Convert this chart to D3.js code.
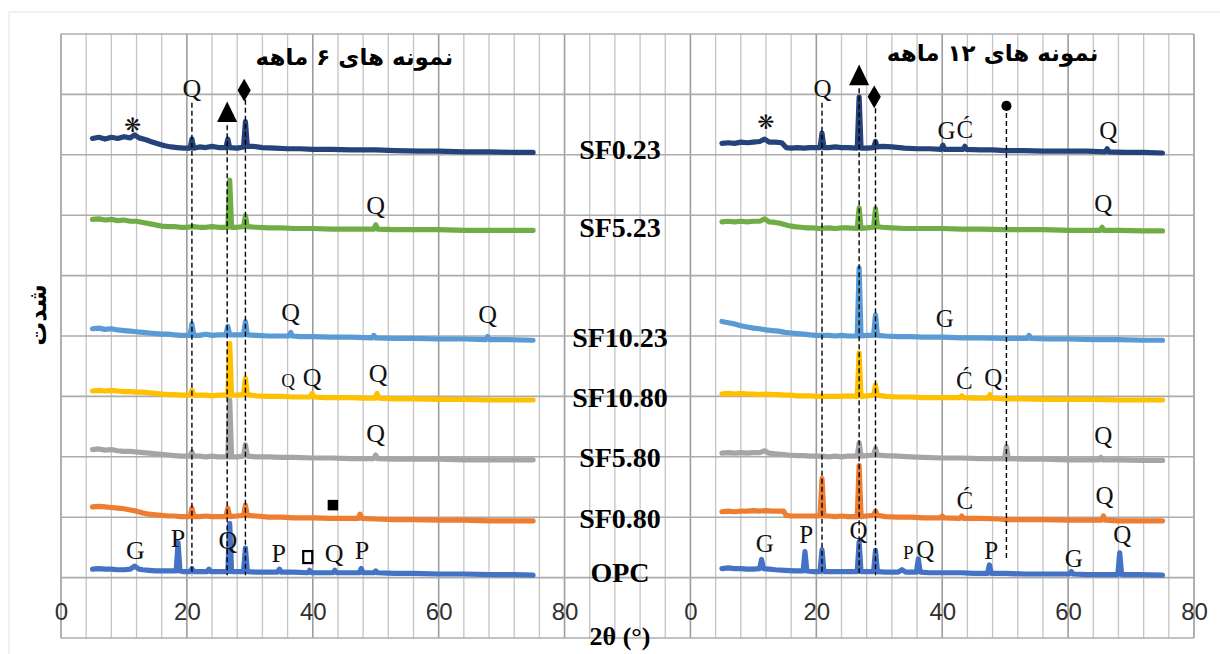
<!DOCTYPE html>
<meta charset="utf-8">
<script src="https://cdn.jsdelivr.net/npm/d3@7"></script>
<style>
  body { margin: 0; background: #fff; }
</style>
<div id="my_dataviz"></div>
<script>

// sample names, top to bottom
var samples = ["SF0.23", "SF5.23", "SF10.23", "SF10.80", "SF5.80", "SF0.80", "OPC"];
var xTicks = [0, 20, 40, 60, 80];
var titles = ["نمونه های ۶ ماهه", "نمونه های ۱۲ ماهه"];
var yTitle = "شدت";
var xTitle = "2θ (°)";

// ---- 6 month patterns : [2theta, stacked intensity] ----
var m6_SF023 = [[5,8.27],[6,8.29],[7,8.26],[8,8.29],[9,8.27],[10,8.30],[11,8.28],[11.7,8.33],[12.4,8.28],[13.5,8.25],[14.5,8.21],[15.5,8.18],[16.5,8.15],[17.5,8.13],[18.5,8.12],[19.5,8.11],[20.5,8.11],[20.8,8.26],[21.1,8.11],[22,8.13],[23,8.12],[24,8.14],[25,8.12],[26.2,8.12],[26.5,8.26],[26.8,8.12],[28,8.11],[29,8.13],[29.3,8.55],[29.6,8.14],[30.5,8.14],[32,8.12],[34,8.11],[36,8.10],[38,8.10],[40,8.09],[43,8.09],[46,8.08],[50,8.08],[53,8.07],[57,8.06],[60,8.06],[64,8.05],[68,8.05],[72,8.04],[75,8.04]];
var m6_SF523 = [[5,6.93],[6,6.94],[7,6.92],[8,6.93],[9,6.91],[10,6.92],[11,6.90],[12,6.90],[13,6.88],[14,6.86],[15,6.84],[16,6.82],[17,6.81],[18,6.81],[19,6.80],[20,6.80],[21,6.81],[22,6.80],[23,6.80],[24,6.81],[25,6.80],[26.5,6.80],[26.8,7.58],[27.1,6.80],[28,6.80],[29,6.81],[29.3,6.99],[29.6,6.81],[31,6.80],[33,6.79],[35,6.79],[37,6.78],[40,6.78],[43,6.77],[46,6.77],[49.7,6.77],[50,6.84],[50.3,6.77],[53,6.76],[56,6.76],[60,6.76],[64,6.75],[68,6.75],[72,6.75],[75,6.75]];
var m6_SF1023 = [[5,5.12],[6,5.13],[7,5.11],[8,5.12],[9,5.10],[10,5.09],[11,5.08],[12,5.07],[13,5.06],[14,5.05],[15,5.04],[16,5.03],[17,5.03],[18,5.02],[19,5.01],[20.5,5.01],[20.8,5.20],[21.1,5.01],[22,5.01],[23,5.03],[24,5.01],[25,5.02],[26.2,5.02],[26.5,5.16],[26.8,5.02],[28,5.02],[29,5.02],[29.3,5.24],[29.6,5.02],[31,5.01],[33,5.00],[35,5.00],[36.2,5.00],[36.5,5.06],[36.8,5.00],[38,4.99],[40,4.99],[43,4.98],[46,4.98],[49.4,4.97],[49.7,5.01],[50,4.97],[53,4.96],[56,4.96],[60,4.95],[64,4.95],[67.5,4.94],[67.8,4.99],[68.1,4.94],[71,4.94],[75,4.93]];
var m6_SF1080 = [[5,4.09],[6,4.10],[7,4.09],[8,4.10],[9,4.09],[10,4.08],[11,4.08],[12,4.07],[13,4.07],[14,4.06],[15,4.05],[16,4.04],[17,4.03],[18,4.03],[19,4.02],[20.5,4.02],[20.8,4.10],[21.1,4.02],[22,4.02],[23,4.02],[24,4.01],[25,4.02],[26.5,4.02],[26.8,4.88],[27.1,4.02],[28,4.02],[29,4.03],[29.3,4.30],[29.6,4.03],[31,4.01],[33,4.00],[35,4.00],[37,3.99],[39.6,3.99],[39.9,4.05],[40.2,3.99],[42,3.98],[44,3.98],[46,3.98],[48,3.97],[49.9,3.97],[50.2,4.05],[50.5,3.97],[53,3.96],[56,3.96],[60,3.95],[64,3.95],[68,3.94],[72,3.94],[75,3.94]];
var m6_SF580 = [[5,3.12],[6,3.13],[7,3.11],[8,3.12],[9,3.10],[10,3.09],[11,3.09],[12,3.08],[13,3.07],[14,3.06],[15,3.05],[16,3.04],[17,3.03],[18,3.02],[19,3.01],[20.5,3.01],[20.8,3.08],[21.1,3.01],[22,3.01],[23,3.00],[24,3.01],[25,3.00],[26.5,3.00],[26.8,3.94],[27.1,3.00],[28,3.00],[29,3.01],[29.3,3.20],[29.6,3.01],[31,3.00],[33,3.00],[35,2.99],[37,2.99],[40,2.98],[43,2.98],[46,2.97],[49.7,2.97],[50,3.03],[50.3,2.97],[53,2.96],[56,2.96],[60,2.96],[64,2.95],[68,2.95],[72,2.95],[75,2.95]];
var m6_SF080 = [[5,2.17],[6,2.18],[7,2.17],[8,2.16],[9,2.15],[10,2.14],[11,2.12],[12,2.10],[13,2.07],[14,2.05],[15,2.04],[16,2.03],[17,2.02],[18,2.02],[19,2.01],[20.5,2.01],[20.8,2.15],[21.1,2.01],[22,2.01],[23,2.02],[24,2.01],[25,2.01],[26.2,2.01],[26.5,2.15],[26.8,2.01],[28,2.02],[29,2.03],[29.3,2.20],[29.6,2.03],[31,2.02],[33,2.00],[35,2.00],[37,1.99],[40,1.99],[43,1.98],[45,1.98],[47.2,1.98],[47.5,2.05],[47.8,1.98],[50,1.97],[53,1.96],[56,1.96],[60,1.95],[64,1.95],[68,1.94],[72,1.94],[75,1.94]];
var m6_OPC = [[5,1.14],[6,1.15],[7,1.14],[8,1.14],[9,1.13],[10,1.13],[11,1.14],[11.7,1.19],[12.4,1.14],[13,1.13],[14,1.12],[15,1.11],[16,1.11],[17,1.11],[18.3,1.11],[18.6,1.58],[18.9,1.11],[19.5,1.10],[20.5,1.10],[20.8,1.15],[21.1,1.10],[22,1.10],[23.2,1.10],[23.5,1.14],[23.8,1.10],[25,1.10],[26.5,1.10],[26.8,1.90],[27.1,1.10],[28,1.10],[29,1.10],[29.3,1.49],[29.6,1.10],[31,1.09],[32.5,1.09],[34.4,1.09],[34.7,1.14],[35,1.09],[37,1.09],[39.2,1.08],[39.5,1.12],[39.8,1.08],[41,1.08],[43.2,1.08],[43.5,1.12],[43.8,1.08],[45,1.08],[47.4,1.08],[47.7,1.15],[48,1.08],[49.7,1.08],[50,1.11],[50.3,1.08],[53,1.07],[56,1.07],[60,1.06],[64,1.06],[68,1.05],[72,1.05],[75,1.04]];

// ---- 12 month patterns ----
var m12_SF023 = [[5,8.19],[6,8.20],[7,8.19],[8,8.21],[9,8.20],[10,8.21],[11,8.22],[11.8,8.26],[12.5,8.21],[13.5,8.21],[14.5,8.20],[15.2,8.12],[16,8.11],[17,8.12],[18,8.11],[19,8.12],[20.6,8.12],[20.9,8.36],[21.2,8.12],[22,8.12],[23,8.13],[24,8.12],[25,8.12],[26.5,8.11],[26.8,8.96],[27.1,8.11],[28,8.11],[29.1,8.12],[29.4,8.22],[29.7,8.13],[30.5,8.14],[32,8.13],[34,8.11],[36,8.10],[38,8.10],[39.8,8.09],[40.1,8.16],[40.4,8.09],[42,8.09],[43.3,8.09],[43.6,8.14],[43.9,8.09],[46,8.08],[48,8.08],[50,8.07],[53,8.07],[56,8.06],[60,8.06],[63,8.06],[65.9,8.05],[66.2,8.10],[66.5,8.05],[69,8.04],[72,8.04],[75,8.03]];
var m12_SF523 = [[5,6.89],[6,6.90],[7,6.89],[8,6.90],[9,6.89],[10,6.90],[11,6.90],[11.8,6.94],[12.5,6.89],[13.5,6.88],[14.5,6.86],[15.5,6.83],[16.5,6.81],[17.5,6.80],[18.5,6.79],[19.5,6.79],[20.5,6.78],[22,6.79],[23,6.78],[24,6.79],[25,6.79],[26.5,6.78],[26.8,7.12],[27.1,6.78],[28,6.79],[29.1,6.80],[29.4,7.11],[29.7,6.81],[30.5,6.80],[32,6.79],[34,6.78],[36,6.78],[38,6.78],[40,6.78],[43,6.77],[46,6.77],[50,6.76],[53,6.76],[56,6.76],[60,6.75],[63,6.75],[65.1,6.75],[65.4,6.80],[65.7,6.75],[68,6.75],[72,6.74],[75,6.74]];
var m12_SF1023 = [[5,5.24],[6,5.22],[7,5.20],[8,5.17],[9,5.15],[10,5.13],[11,5.12],[12,5.10],[13,5.09],[14,5.08],[15,5.06],[16,5.05],[17,5.04],[18,5.03],[19,5.02],[20,5.01],[21,5.01],[22,5.01],[23,5.00],[24,5.01],[25,5.00],[26.5,5.00],[26.8,6.13],[27.1,5.00],[28,5.01],[29.1,5.01],[29.4,5.35],[29.7,5.01],[31,5.00],[33,4.99],[35,4.99],[37,4.98],[40,4.98],[43,4.97],[46,4.97],[50,4.96],[53.5,4.96],[53.8,5.01],[54.1,4.96],[57,4.95],[60,4.95],[64,4.94],[68,4.94],[72,4.93],[75,4.93]];
var m12_SF1080 = [[5,4.04],[6,4.05],[7,4.04],[8,4.05],[9,4.04],[10,4.04],[11,4.03],[12,4.04],[13,4.03],[14,4.03],[15,4.02],[16,4.02],[17,4.01],[18,4.01],[19,4.01],[20,4.00],[22,4.00],[24,4.00],[25,4.01],[26.5,4.00],[26.8,4.72],[27.1,4.00],[28,4.01],[29.1,4.02],[29.4,4.19],[29.7,4.02],[31,4.00],[33,3.99],[35,3.99],[37,3.98],[40,3.98],[42.8,3.98],[43.1,4.01],[43.4,3.98],[45,3.97],[47.3,3.97],[47.6,4.03],[47.9,3.97],[50,3.96],[53,3.96],[56,3.95],[60,3.95],[64,3.95],[68,3.94],[72,3.94],[75,3.94]];
var m12_SF580 = [[5,3.06],[6,3.07],[7,3.06],[8,3.07],[9,3.06],[10,3.07],[11,3.07],[11.8,3.10],[12.5,3.06],[13.5,3.05],[14.5,3.04],[15.5,3.03],[17,3.02],[18,3.02],[19,3.01],[20,3.01],[21,3.01],[22,3.00],[23,3.01],[24,3.00],[25,3.01],[26.5,3.01],[26.8,3.23],[27.1,3.01],[28,3.02],[29.1,3.03],[29.4,3.14],[29.7,3.03],[31,3.02],[33,3.01],[35,3.00],[37,2.99],[40,2.98],[43,2.98],[46,2.97],[49.9,2.97],[50.2,3.17],[50.5,2.97],[53,2.96],[56,2.96],[60,2.95],[63,2.95],[64.9,2.95],[65.2,2.99],[65.5,2.95],[68,2.95],[72,2.94],[75,2.94]];
var m12_SF080 = [[5,2.09],[6,2.10],[7,2.09],[8,2.10],[9,2.10],[10,2.11],[11,2.10],[12,2.11],[13,2.10],[14,2.10],[14.8,2.10],[15.2,2.03],[16,2.02],[17,2.02],[18,2.02],[19,2.02],[20.6,2.02],[20.9,2.64],[21.2,2.02],[22,2.02],[23,2.01],[24,2.02],[25,2.01],[26.5,2.01],[26.8,2.86],[27.1,2.01],[28,2.02],[29.1,2.03],[29.4,2.10],[29.7,2.03],[31,2.01],[33,2.00],[35,2.00],[37,1.99],[39.7,1.99],[40,2.02],[40.3,1.99],[42.8,1.98],[43.1,2.02],[43.4,1.98],[46,1.98],[49,1.97],[50,1.96],[53,1.96],[56,1.96],[60,1.95],[63,1.95],[65.3,1.95],[65.6,2.02],[65.9,1.95],[68,1.94],[72,1.94],[75,1.94]];
var m12_OPC = [[5,1.15],[6,1.16],[7,1.15],[8,1.15],[9,1.14],[10,1.14],[11,1.15],[11.3,1.30],[11.6,1.15],[12.5,1.14],[13.5,1.13],[15,1.12],[16.5,1.11],[17.9,1.11],[18.2,1.43],[18.5,1.11],[19.5,1.10],[20.6,1.10],[20.9,1.46],[21.2,1.10],[22,1.10],[23,1.10],[24,1.10],[25,1.10],[26.5,1.10],[26.8,1.59],[27.1,1.10],[28,1.10],[29.1,1.10],[29.4,1.45],[29.7,1.10],[31,1.09],[33,1.09],[33.6,1.13],[34.2,1.09],[35.9,1.09],[36.2,1.31],[36.5,1.09],[38,1.08],[40,1.08],[43,1.08],[45,1.07],[47.2,1.07],[47.5,1.21],[47.8,1.07],[50,1.07],[53,1.06],[56,1.06],[60.2,1.06],[60.5,1.10],[60.8,1.06],[63,1.05],[66,1.05],[67.9,1.05],[68.2,1.41],[68.5,1.05],[71,1.05],[75,1.04]];

var month6 = [m6_SF023, m6_SF523, m6_SF1023, m6_SF1080, m6_SF580, m6_SF080, m6_OPC];
var month12 = [m12_SF023, m12_SF523, m12_SF1023, m12_SF1080, m12_SF580, m12_SF080, m12_OPC];

// phase letters [2theta, intensity, text]
var letters6 = [[20.8,9.11,"Q"],[50.0,7.17,"Q"],[36.5,5.40,"Q"],[67.8,5.36,"Q"],[39.9,4.32,"Q"],[50.4,4.39,"Q"],[50.0,3.39,"Q"],
                [11.8,1.46,"G"],[18.6,1.66,"P"],[26.5,1.62,"Q"],[34.6,1.41,"P"],[43.4,1.41,"Q"],[47.8,1.46,"P"]];
var smallLetters6 = [[36.1,4.27,"Q"]];
var letters12 = [[21.0,9.11,"Q"],[40.7,8.41,"G"],[43.6,8.43,"Ć"],[66.4,8.41,"Q"],[65.6,7.20,"Q"],[40.4,5.30,"G"],
                 [43.5,4.27,"Ć"],[48.1,4.32,"Q"],[65.6,3.36,"Q"],[43.6,2.28,"Ć"],[65.8,2.37,"Q"],
                 [11.8,1.57,"G"],[18.4,1.71,"P"],[26.7,1.79,"Q"],[37.3,1.47,"Q"],[47.8,1.46,"P"],[60.9,1.32,"G"],[68.6,1.71,"Q"]];
var smallLetters12 = [[34.6,1.41,"P"]];

// phase symbols [kind, 2theta, intensity]
var marks6 = [["tri",26.4,8.69],["dia",29.1,9.07],["star",11.4,8.49],["sq",43.2,2.20],["osq",39.2,1.34]];
var marks12 = [["tri",26.8,9.30],["dia",29.2,8.96],["star",12.0,8.54],["dot",50.2,8.81]];

// dashed reference lines [2theta, top, bottom]
var refs6 = [[20.8,8.86,1.04],[26.4,8.49,1.04],[29.3,8.91,1.04]];
var refs12 = [[20.9,8.86,1.04],[26.8,9.10,1.04],[29.4,8.77,1.04],[50.2,8.69,1.29]];

var colors = ["#25427a", "#70ad47", "#5b9bd5", "#ffc000", "#a5a5a5", "#ed7d31", "#4472c4"];

var W = 1220, H = 654;
var svg = d3.select("#my_dataviz").append("svg")
    .attr("width", W).attr("height", H)
    .style("font-family", "'Liberation Serif', serif");

// chart area border (excel)
svg.append("rect").attr("x", 9).attr("y", 12).attr("width", 1260).attr("height", 700)
   .attr("fill", "none").attr("stroke", "#e3e3e3").attr("stroke-width", 1);

var x = d3.scaleLinear().domain([0, 180]).range([61, 1194]);
var y = d3.scaleLinear().domain([0, 10]).range([638, 34]);

// grid
svg.append("g").selectAll("line").data(d3.range(0, 181, 4)).enter().append("line")
   .attr("x1", d => x(d)).attr("x2", d => x(d)).attr("y1", y(0)).attr("y2", y(10))
   .attr("stroke", d => d % 20 == 0 ? "#9c9c9c" : "#c4c4c4")
   .attr("stroke-width", d => d % 20 == 0 ? 1.6 : 1.3);
svg.append("g").selectAll("line").data(d3.range(0, 11)).enter().append("line")
   .attr("x1", x(0)).attr("x2", x(180)).attr("y1", d => y(d)).attr("y2", d => y(d))
   .attr("stroke", "#acacac").attr("stroke-width", 1.6);

// x axis labels (two panels: second one shifted by 100)
var xAxis = d3.axisBottom(x)
    .tickValues(xTicks.concat(xTicks.map(d => d + 100)))
    .tickFormat(d => String(d % 100))
    .tickSize(0).tickPadding(0);
var gx = svg.append("g").attr("transform", "translate(0,603)").call(xAxis);
gx.select(".domain").remove();
gx.selectAll("text").attr("font-family", "'Liberation Sans', sans-serif")
  .attr("font-size", 24).attr("fill", "#303030");

// curves
var line = d3.line();
function drawPanel(series, offset) {
  series.forEach(function(s, i) {
    line.x(d => x(d[0] + offset)).y(d => y(d[1]));
    svg.append("path").datum(s)
      .attr("fill", "none")
      .attr("stroke", colors[i])
      .attr("stroke-width", 5.2)
      .attr("stroke-linejoin", "round")
      .attr("stroke-linecap", "round")
      .attr("d", line);
  });
}
drawPanel(month6, 0);
drawPanel(month12, 100);

// dashed lines
function drawRefs(refs, offset) {
  svg.append("g").selectAll("line").data(refs).enter().append("line")
    .attr("x1", d => x(d[0] + offset)).attr("x2", d => x(d[0] + offset))
    .attr("y1", d => y(d[1])).attr("y2", d => y(d[2]))
    .attr("stroke", "#000").attr("stroke-width", 1.4)
    .attr("stroke-dasharray", "5,3");
}
drawRefs(refs6, 0);
drawRefs(refs12, 100);

// letters
function drawLetters(list, offset, size) {
  svg.append("g").selectAll("text").data(list).enter().append("text")
    .attr("x", d => x(d[0] + offset)).attr("y", d => y(d[1]))
    .attr("dy", "0.35em")
    .attr("text-anchor", "middle")
    .attr("font-size", size)
    .attr("fill", "#111")
    .text(d => d[2]);
}
drawLetters(letters6, 0, 26);
drawLetters(letters12, 100, 25);
drawLetters(smallLetters6, 0, 19);
drawLetters(smallLetters12, 100, 19);

// symbols
function drawMarks(list, offset) {
  list.forEach(function(m) {
    var cx = x(m[1] + offset), cy = y(m[2]);
    if (m[0] == "tri") {
      svg.append("path").attr("d", d3.symbol(d3.symbolTriangle, 175)())
        .attr("transform", "translate(" + cx + "," + (cy + 2) + ") scale(1,1.18)").attr("fill", "#000");
    } else if (m[0] == "dia") {
      svg.append("path").attr("d", d3.symbol(d3.symbolDiamond, 150)())
        .attr("transform", "translate(" + cx + "," + cy + ")").attr("fill", "#000");
    } else if (m[0] == "dot") {
      svg.append("path").attr("d", d3.symbol(d3.symbolCircle, 80)())
        .attr("transform", "translate(" + cx + "," + cy + ")").attr("fill", "#000");
    } else if (m[0] == "sq") {
      svg.append("path").attr("d", d3.symbol(d3.symbolSquare, 110)())
        .attr("transform", "translate(" + cx + "," + cy + ")").attr("fill", "#000");
    } else if (m[0] == "osq") {
      svg.append("rect").attr("x", cx - 4.5).attr("y", cy - 6).attr("width", 9).attr("height", 12)
        .attr("fill", "#fff").attr("stroke", "#000").attr("stroke-width", 2.2);
    } else if (m[0] == "star") {
      svg.append("text").attr("x", cx).attr("y", cy).attr("dy", "0.35em")
        .attr("text-anchor", "middle").attr("font-family", "'DejaVu Sans'")
        .attr("font-size", 20).attr("fill", "#111").text("❋");
    }
  });
}
drawMarks(marks6, 0);
drawMarks(marks12, 100);

// sample names, next to the end of each 6 month curve
svg.append("g").selectAll("text").data(samples).enter().append("text")
  .attr("x", 620)
  .attr("y", (d, i) => y(month6[i][month6[i].length - 1][1]) + 7)
  .attr("text-anchor", "middle")
  .attr("font-weight", "bold")
  .attr("font-size", 28)
  .attr("fill", "#000")
  .text(d => d);

// titles
svg.append("text").attr("x", x(46.6)).attr("y", 57).attr("dy", "0.35em")
  .attr("text-anchor", "middle").attr("font-family", "'DejaVu Sans'")
  .attr("font-weight", "bold").attr("font-size", 23).attr("direction", "rtl")
  .text(titles[0]);
svg.append("text").attr("x", x(148)).attr("y", 53).attr("dy", "0.35em")
  .attr("text-anchor", "middle").attr("font-family", "'DejaVu Sans'")
  .attr("font-weight", "bold").attr("font-size", 23).attr("direction", "rtl")
  .text(titles[1]);

// axis titles
svg.append("text").attr("transform", "translate(38,315) rotate(-90)")
  .attr("dy", "0.35em").attr("text-anchor", "middle")
  .attr("font-family", "'DejaVu Sans'").attr("font-weight", "bold").attr("font-size", 24)
  .text(yTitle);
svg.append("text").attr("x", 620).attr("y", 645)
  .attr("text-anchor", "middle").attr("font-weight", "bold").attr("font-size", 26)
  .text(xTitle);

</script>
